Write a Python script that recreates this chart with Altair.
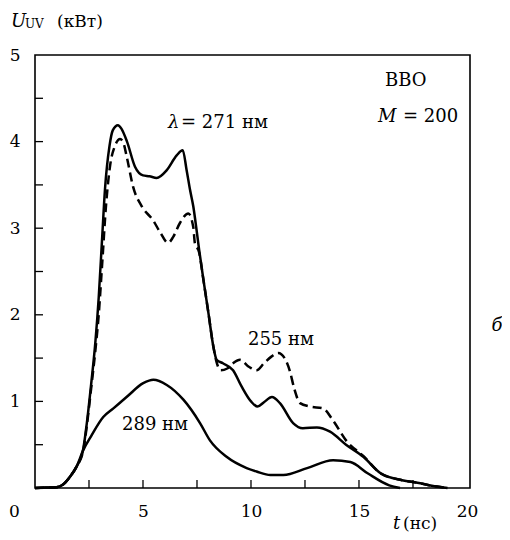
import altair as alt
import pandas as pd

# ---- data ----
t271 = [0, 0.5, 1.0, 1.3, 1.62, 1.93, 2.24, 2.4, 2.6, 2.8, 2.95, 3.1, 3.24, 3.45, 3.6, 3.84, 4.0, 4.26, 4.63, 5.0,
        5.3, 5.63, 6.1, 6.56, 6.84, 7.02, 7.18, 7.33, 7.48, 7.6, 7.8, 8.03, 8.26, 8.41, 8.7, 9.17, 9.57, 10.0,
        10.3, 10.6, 10.97, 11.34, 11.95, 12.4, 13.05, 13.66, 14.4, 15.2, 16.0, 17.0, 17.7, 18.5, 19.1]
u271 = [0, 0.005, 0.01, 0.04, 0.13, 0.25, 0.46, 0.75, 1.2, 1.7, 2.2, 2.85, 3.45, 3.95, 4.13, 4.19, 4.15, 4.0, 3.71, 3.61,
        3.6, 3.58, 3.67, 3.84, 3.9, 3.67, 3.44, 3.25, 2.98, 2.75, 2.40, 2.02, 1.63, 1.48, 1.44, 1.36, 1.17, 1.0,
        0.94, 0.99, 1.05, 0.98, 0.75, 0.69, 0.70, 0.65, 0.5, 0.36, 0.17, 0.09, 0.06, 0.02, 0.0]

t255 = [0, 0.5, 1.0, 1.3, 1.62, 1.93, 2.24, 2.4, 2.6, 2.8, 2.95, 3.1, 3.3, 3.47, 3.7, 3.94, 4.1, 4.26, 4.54, 4.95,
        5.47, 5.8, 6.16, 6.4, 6.71, 7.1, 7.33, 7.4, 7.6, 7.8, 8.03, 8.26, 8.41, 8.6, 8.9, 9.17, 9.49, 9.9,
        10.26, 10.6, 10.96, 11.26, 11.6, 11.8, 12.0, 12.27, 12.73, 13.33, 13.8, 14.4, 15.2, 16.0, 17.0, 17.7,
        18.5, 19.1]
u255 = [0, 0.005, 0.01, 0.04, 0.13, 0.25, 0.44, 0.72, 1.15, 1.6, 2.0, 2.55, 3.3, 3.71, 3.95, 4.03, 3.98, 3.81, 3.48, 3.25,
        3.09, 2.95, 2.83, 2.90, 3.06, 3.17, 3.01, 2.83, 2.72, 2.40, 2.02, 1.63, 1.45, 1.36, 1.38, 1.44, 1.48, 1.40,
        1.36, 1.44, 1.52, 1.56, 1.48, 1.35, 1.15, 0.98, 0.94, 0.92, 0.78, 0.55, 0.37, 0.17, 0.09, 0.06,
        0.02, 0.0]

t289 = [0, 0.5, 1.0, 1.3, 1.62, 1.93, 2.24, 2.6, 3.16, 3.63, 4.24, 5.01, 5.48, 6.1, 6.87, 7.64, 8.1, 8.87, 9.8,
        10.26, 10.9, 11.5, 12.6, 13.8, 14.6, 15.4, 16.4, 16.9]
u289 = [0, 0.005, 0.01, 0.04, 0.13, 0.25, 0.44, 0.6, 0.82, 0.92, 1.05, 1.21, 1.25, 1.19, 1.02, 0.75, 0.55, 0.36, 0.23,
        0.19, 0.15, 0.15, 0.23, 0.32, 0.3, 0.17, 0.03, 0.0]

x_ticks = [2.5, 5, 7.5, 10, 12.5, 15, 17.5]
y_ticks = [0.5, 1, 1.5, 2, 2.5, 3, 3.5, 4, 4.5]
x_labels = [5, 10, 15, 20]
y_labels = [1, 2, 3, 4, 5]

FONT = "DejaVu Serif"
W, H = 435, 433
XMAX = 20.14

xs = alt.Scale(domain=[0, XMAX], nice=False, zero=False)
ys = alt.Scale(domain=[0, 5], nice=False)

xaxis = alt.Axis(values=x_labels, ticks=False, domain=False, grid=False, labelPadding=15,
                 labelFont=FONT, labelFontSize=17, labelColor="black", title=None, format="d")
yaxis = alt.Axis(values=y_labels, ticks=False, domain=False, grid=False, labelPadding=15,
                 labelFont=FONT, labelFontSize=17, labelColor="black", title=None, format="d")


def curve(t, u, dash=None):
    df = pd.DataFrame({"t": t, "u": u})
    kw = dict(color="black", strokeWidth=2.5, interpolate="monotone")
    if dash:
        kw["strokeDash"] = dash
    return alt.Chart(df).mark_line(**kw).encode(
        x=alt.X("t:Q", scale=xs, axis=xaxis),
        y=alt.Y("u:Q", scale=ys, axis=yaxis),
    )


def label(x, y, s, italic=False, size=18, align="left", baseline="alphabetic"):
    return alt.Chart(pd.DataFrame({"s": [s]})).mark_text(
        font=FONT, fontSize=size, fontStyle="italic" if italic else "normal",
        align=align, baseline=baseline, color="black"
    ).encode(x=x, y=y, text="s:N")


xt = alt.Chart(pd.DataFrame({"v": x_ticks})).mark_rule(color="black", strokeWidth=1.3).encode(
    x=alt.X("v:Q", scale=xs), y=alt.value(H), y2=alt.value(H - 8))
yt = alt.Chart(pd.DataFrame({"v": y_ticks})).mark_rule(color="black", strokeWidth=1.3).encode(
    y=alt.Y("v:Q", scale=ys), x=alt.value(0), x2=alt.value(8))

texts = [
    label(alt.datum(16.2), alt.datum(4.642), "BBO"),
    label(alt.datum(15.88), alt.datum(4.226), "M", italic=True),
    label(alt.datum(17.04), alt.datum(4.226), "= 200"),
    label(alt.datum(6.16), alt.datum(4.157), "λ", italic=True),
    label(alt.datum(6.76), alt.datum(4.157), "= 271 нм"),
    label(alt.datum(9.86), alt.datum(1.651), "255 нм"),
    label(alt.datum(4.03), alt.datum(0.67), "289 нм"),
    # axis titles and corner label
    label(alt.value(-24), alt.value(-28), "U", italic=True, size=18),
    label(alt.value(-10), alt.value(-27), "UV", size=12),
    label(alt.value(22), alt.value(-28), "(кВт)", size=17),
    label(alt.value(358), alt.value(474), "t", italic=True, size=18),
    label(alt.value(368), alt.value(474), "(нс)", size=17),
    label(alt.value(-20.5), alt.value(457), "0", size=17, align="center", baseline="middle"),
    label(alt.value(462), alt.value(276), "б", italic=True, size=18, align="center"),
]

chart = alt.layer(
    curve(t289, u289),
    curve(t271, u271),
    curve(t255, u255, dash=[9, 5]),
    xt, yt, *texts
).properties(
    width=W, height=H,
    background="white",
    autosize=alt.AutoSizeParams(type="none"),
    padding={"left": 27, "top": 47, "right": 32, "bottom": 44},
).configure_view(stroke="black", strokeWidth=1.6)

chart.save("out.html", embed_options={"renderer": "svg", "actions": False})
